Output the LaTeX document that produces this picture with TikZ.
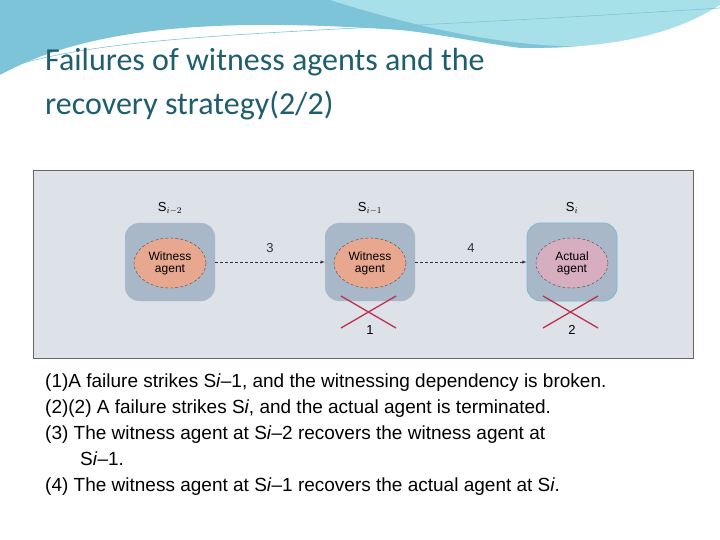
\documentclass[tikz,border=0pt]{standalone}
\usepackage{fontspec}
\usetikzlibrary{shapes.geometric}
\setmainfont{Liberation Sans}
\newfontfamily\titlefont{Carlito}
\definecolor{titlec}{HTML}{1E5E6E}
\definecolor{panel}{HTML}{DDE1E8}
\definecolor{boxc}{HTML}{A9B8C8}
\definecolor{salmon}{HTML}{E8A890}
\definecolor{mauve}{HTML}{D6AEC0}
\definecolor{crossc}{HTML}{C0304A}
\definecolor{wave1}{HTML}{7EC4D8}
\definecolor{wave2}{HTML}{A8E0EA}
\begin{document}
\begin{tikzpicture}[x=1pt,y=-1pt,
  station/.style={draw=none,fill=boxc,rounded corners=14pt,minimum width=90pt,minimum height=78pt},
  agent/.style={ellipse,draw=black!70,densely dashed,line width=0.4pt,minimum width=72pt,minimum height=50pt,align=center,font=\fontsize{12}{12}\selectfont,inner sep=0pt},
  lbl/.style={font=\fontsize{13}{13}\selectfont},
  body/.style={anchor=base west,font=\fontsize{19}{19}\selectfont,inner sep=0pt},
  xmark/.style={draw=crossc,line width=1.3pt}]
\useasboundingbox (0,0) rectangle (720,540);
\fill[white] (0,0) rectangle (720,540);
% header waves
\fill[wave1] (0,0) -- (720,0) -- (720,20) .. controls (600,80) and (500,40) .. (400,30) .. controls (250,20) and (100,20) .. (0,75) -- cycle;
\fill[wave2] (330,0) -- (720,0) -- (720,10) .. controls (650,60) and (520,60) .. (330,0) -- cycle;
\fill[white] (0,75) .. controls (100,30) and (250,30) .. (400,42) .. controls (550,55) and (650,50) .. (720,5) -- (720,30) .. controls (640,60) and (560,60) .. (400,48) .. controls (250,38) and (100,40) .. (0,80) -- cycle;
\draw[wave1,line width=0.6pt] (0,70) .. controls (120,30) and (300,35) .. (720,8);
% title
\node[anchor=base west,inner sep=0pt,text=titlec,font=\titlefont\fontsize{32}{32}\selectfont] (t1) at (45,71) {Failures of witness agents and the};
\node[anchor=base west,inner sep=0pt,text=titlec,font=\titlefont\fontsize{32}{32}\selectfont] (t2) at (45,115) {recovery strategy(2/2)};
% panel
\draw[fill=panel,draw=black!60,line width=0.5pt] (33,170) rectangle (693,358);
\node[station] (b1) at (170,262) {};
\node[station] (b2) at (370,262) {};
\node[station,draw=cyan!40!boxc,line width=0.8pt] (b3) at (572,262) {};
\node[agent,fill=salmon] (a1) at (170,263) {Witness\\agent};
\node[agent,fill=salmon] (a2) at (370,263) {Witness\\agent};
\node[agent,fill=mauve] (a3) at (572,263) {Actual\\agent};
\node[lbl] (s1) at (170,208) {S$_{i-2}$};
\node[lbl] (s2) at (370,208) {S$_{i-1}$};
\node[lbl] (s3) at (572,208) {S$_{i}$};
\draw[densely dashed,-latex,black!80,line width=0.5pt] (b1.east) -- node[above=6pt,lbl]{3} (b2.west);
\draw[densely dashed,-latex,black!80,line width=0.5pt] (b2.east) -- node[above=6pt,lbl]{4} (b3.west);
\draw[xmark] (341,296) -- (396,328);
\draw[xmark] (341,328) -- (396,296);
\draw[xmark] (543,296) -- (598,328);
\draw[xmark] (543,328) -- (598,296);
\node[lbl] (n1) at (370,330) {1};
\node[lbl] (n2) at (572,330) {2};
% body
\node[body] (l1) at (45,387) {(1)A failure strikes S\textit{i}–1, and the witnessing dependency is broken.};
\node[body] (l2) at (45,413) {(2)(2) A failure strikes S\textit{i}, and the actual agent is terminated.};
\node[body] (l3) at (45,439) {(3) The witness agent at S\textit{i}–2 recovers the witness agent at};
\node[body] (l4) at (80,465) {S\textit{i}–1.};
\node[body] (l5) at (45,491) {(4) The witness agent at S\textit{i}–1 recovers the actual agent at S\textit{i}.};
\end{tikzpicture}
\end{document}
